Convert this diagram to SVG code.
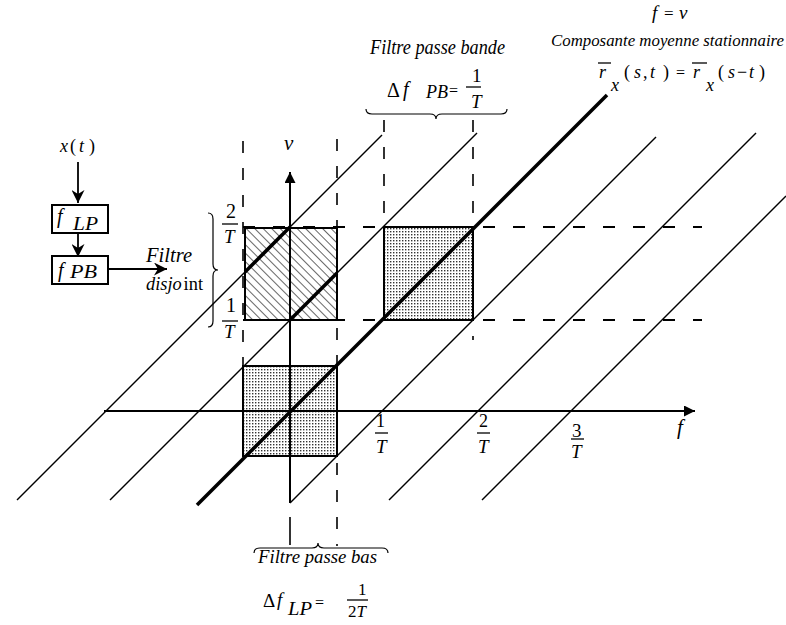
<svg xmlns="http://www.w3.org/2000/svg" width="786" height="625" viewBox="0 0 786 625" font-family="'Liberation Serif','Times New Roman',serif">
<style>
text{font-family:"Liberation Serif","Times New Roman",serif;fill:#000}
.it{font-style:italic}
.up{font-style:normal}
.thin{stroke:#000;stroke-width:1.4;fill:none}
.thick{stroke:#000;stroke-width:3.6;fill:none;stroke-linecap:butt}
.dv{stroke:#000;stroke-width:1.6;fill:none;stroke-dasharray:12 15}
.dh{stroke:#000;stroke-width:1.8;fill:none;stroke-dasharray:12 18}
.box{stroke:#000;stroke-width:2;}
.node{fill:#fff;stroke:#000;stroke-width:2}
.bar{stroke:#000;stroke-width:1.3}
</style>
<defs>
<pattern id="dots" patternUnits="userSpaceOnUse" width="3" height="3">
<rect width="3" height="3" fill="#fff"/>
<rect x="0" y="0" width="1.4" height="1.4" fill="#333"/>
</pattern>
<pattern id="hatch" patternUnits="userSpaceOnUse" width="6" height="6" patternTransform="rotate(-45)">
<rect width="6" height="6" fill="#fff"/>
<line x1="0" y1="0" x2="0" y2="6" stroke="#000" stroke-width="1.2"/>
</pattern>
<marker id="ah" viewBox="0 0 10 10" refX="10" refY="5" markerUnits="userSpaceOnUse" markerWidth="17" markerHeight="13" orient="auto">
<path d="M0,0 L10,5 L0,10 L3,5 z" fill="#000"/>
</marker>
<marker id="axh" viewBox="0 0 10 10" refX="10" refY="5" markerUnits="userSpaceOnUse" markerWidth="19" markerHeight="11" orient="auto">
<path d="M0,0 L10,5 L0,10 z" fill="#000"/>
</marker>
<marker id="nuh" viewBox="0 0 10 10" refX="10" refY="5" markerUnits="userSpaceOnUse" markerWidth="23" markerHeight="11" orient="auto">
<path d="M0,0 L10,5 L0,10 z" fill="#000"/>
</marker>
</defs>
<rect width="786" height="625" fill="#fff"/>

<g id="regions">
<rect x="245" y="228" width="92" height="92" fill="url(#hatch)" class="box"/>
<rect x="384" y="227" width="89" height="93" fill="url(#dots)" class="box"/>
<rect x="243" y="366" width="94" height="90" fill="url(#dots)" class="box"/>
</g>

<g id="dashed-guides">
<line class="dv" x1="243" y1="141" x2="243" y2="366"/>
<line class="dv" x1="337" y1="139" x2="337" y2="546"/>
<line class="dv" x1="384" y1="120" x2="384" y2="227"/>
<line class="dv" x1="473" y1="120" x2="473" y2="340"/>
<line class="dh" x1="243" y1="227" x2="702" y2="227"/>
<line class="dh" x1="243" y1="320" x2="702" y2="320"/>
<line x1="290" y1="517" x2="290" y2="545" stroke="#000" stroke-width="1.6"/>
</g>

<g id="diagonals">
<line class="thin" x1="17" y1="500" x2="382" y2="135"/>
<line class="thin" x1="110" y1="500" x2="477" y2="133"/>
<line class="thick" x1="197" y1="505" x2="607" y2="95"/>
<line class="thin" x1="290" y1="503" x2="656" y2="137"/>
<line class="thin" x1="389" y1="500" x2="756" y2="133"/>
<line class="thin" x1="482" y1="500" x2="786" y2="196"/>
<line class="thick" x1="245" y1="272" x2="290" y2="227"/>
<line class="thick" x1="290" y1="320" x2="337" y2="273"/>
</g>

<g id="axes">
<line x1="104" y1="411" x2="695" y2="411" stroke="#000" stroke-width="2" marker-end="url(#axh)"/>
<line x1="290" y1="503" x2="290" y2="172" stroke="#000" stroke-width="2" marker-end="url(#nuh)"/>
<text class="it" x="284" y="150" font-size="21">ν</text>
<text class="it" x="677" y="434" font-size="21">f</text>
<text class="up" x="376" y="427" font-size="18">1</text>
<line class="bar" x1="375" y1="433" x2="388" y2="433"/>
<text class="it" x="376" y="453" font-size="19">T</text>
<text class="up" x="479" y="427" font-size="18">2</text>
<line class="bar" x1="477" y1="433" x2="490" y2="433"/>
<text class="it" x="478" y="453" font-size="19">T</text>
<text class="up" x="572" y="437" font-size="19">3</text>
<line class="bar" x1="571" y1="439" x2="584" y2="439"/>
<text class="it" x="571" y="458" font-size="19">T</text>
<text class="up" x="226" y="218" font-size="20">2</text>
<line class="bar" x1="222" y1="224" x2="238" y2="224"/>
<text class="it" x="224" y="243" font-size="19">T</text>
<text class="up" x="226" y="312" font-size="20">1</text>
<line class="bar" x1="222" y1="321" x2="238" y2="321"/>
<text class="it" x="224" y="338" font-size="19">T</text>
</g>

<g id="braces" fill="none" stroke="#000" stroke-width="1.2">
<path d="M366,109 Q366,114 372,114 L430,114 Q436,114 436,119 Q436,114 442,114 L501,114 Q507,114 507,109"/>
<path d="M254,553 Q254,548 260,548 L312,548 Q318,548 318,543 Q318,548 324,548 L382,548 Q388,548 388,553"/>
<path d="M208,213 Q213,213 213,219 L213,264 Q213,270 218,270 Q213,270 213,276 L213,321 Q213,327 208,327"/>
</g>

<g id="top-labels">
<text class="it" x="652" y="19" font-size="19">f</text>
<text x="664" y="19" font-size="17">=</text>
<text class="it" x="679" y="19" font-size="19">ν</text>
<text class="it" x="551" y="46" font-size="17" textLength="233" lengthAdjust="spacingAndGlyphs">Composante moyenne stationnaire</text>
<line class="bar" x1="598" y1="63" x2="611" y2="63"/>
<text class="it" x="599" y="78" font-size="18">r</text>
<text class="it" x="611" y="91" font-size="18">x</text>
<text x="624" y="78" font-size="18">(</text>
<text class="it" x="634" y="78" font-size="18">s</text>
<text x="643" y="78" font-size="18">,</text>
<text class="it" x="650" y="78" font-size="18">t</text>
<text x="663" y="78" font-size="18">)</text>
<text x="676" y="78" font-size="16">=</text>
<line class="bar" x1="692" y1="63" x2="707" y2="63"/>
<text class="it" x="693" y="78" font-size="18">r</text>
<text class="it" x="706" y="91" font-size="18">x</text>
<text x="718" y="78" font-size="18">(</text>
<text class="it" x="728" y="78" font-size="18">s</text>
<text x="737" y="78" font-size="18">−</text>
<text class="it" x="749" y="78" font-size="18">t</text>
<text x="759" y="78" font-size="18">)</text>
<text class="it" x="370" y="54" font-size="20" textLength="135" lengthAdjust="spacingAndGlyphs">Filtre passe bande</text>
<text x="387" y="97" font-size="20">Δ</text>
<text class="it" x="403" y="96" font-size="20">f</text>
<text class="it" x="426" y="98" font-size="18" textLength="22" lengthAdjust="spacingAndGlyphs">PB</text>
<text x="449" y="96" font-size="16">=</text>
<text x="472" y="82" font-size="19">1</text>
<line class="bar" x1="466" y1="87" x2="481" y2="87"/>
<text class="it" x="471" y="108" font-size="19">T</text>
</g>

<g id="bottom-labels">
<text class="it" x="258" y="563" font-size="19" textLength="119" lengthAdjust="spacingAndGlyphs">Filtre passe bas</text>
<text x="263" y="607" font-size="19">Δ</text>
<text class="it" x="277" y="606" font-size="19">f</text>
<text class="it" x="288" y="615" font-size="18" textLength="24" lengthAdjust="spacingAndGlyphs">LP</text>
<text x="315" y="608" font-size="16">=</text>
<text x="358" y="595" font-size="17">1</text>
<line class="bar" x1="347" y1="600" x2="368" y2="600"/>
<text x="348" y="617" font-size="17">2<tspan class="it">T</tspan></text>
</g>

<g id="node-xt">
<text class="it" x="60" y="152" font-size="18">x</text>
<text x="70" y="152" font-size="18">(</text>
<text class="it" x="79" y="152" font-size="18">t</text>
<text x="89" y="152" font-size="18">)</text>
</g>
<g id="node-fLP">
<rect class="node" x="52" y="205" width="56" height="28"/>
<text class="it" x="57" y="223" font-size="20">f</text>
<text class="it" x="73" y="230" font-size="19" textLength="25" lengthAdjust="spacingAndGlyphs">LP</text>
</g>
<g id="node-fPB">
<rect class="node" x="52" y="256" width="56" height="28"/>
<text class="it" x="58" y="277" font-size="20">f</text>
<text class="it" x="70" y="278" font-size="19" textLength="27" lengthAdjust="spacingAndGlyphs">PB</text>
</g>
<g id="node-disjoint">
<text class="it" x="146" y="262" font-size="20" textLength="46" lengthAdjust="spacingAndGlyphs">Filtre</text>
<text x="146" y="290" font-size="19" textLength="57" lengthAdjust="spacingAndGlyphs"><tspan class="it">disjo</tspan><tspan dx="2">int</tspan></text>
</g>

<g id="connectors" stroke="#000" stroke-width="1.8" fill="none">
<line x1="78" y1="162" x2="78" y2="203" marker-end="url(#ah)"/>
<line x1="78" y1="232" x2="78" y2="257" marker-end="url(#ah)"/>
<line x1="108" y1="269" x2="167" y2="269" marker-end="url(#ah)"/>
</g>
</svg>
